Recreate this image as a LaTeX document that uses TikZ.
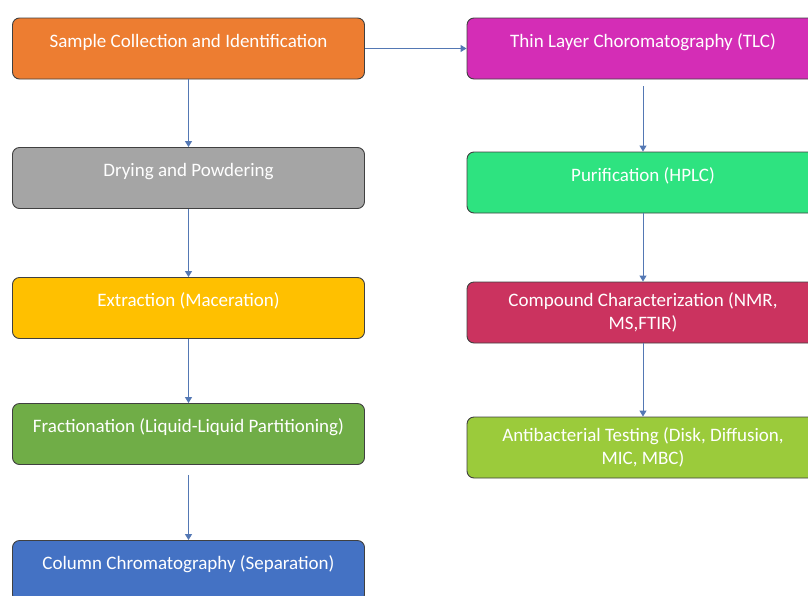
\documentclass[tikz,border=0pt]{standalone}
\usepackage{fontspec}
\setmainfont{Carlito}
\usetikzlibrary{arrows.meta}
\definecolor{sampleorange}{HTML}{ED7D31}
\definecolor{drygray}{HTML}{A5A5A5}
\definecolor{extractgold}{HTML}{FFC000}
\definecolor{fracgreen}{HTML}{70AD47}
\definecolor{columnblue}{HTML}{4472C4}
\definecolor{tlcmagenta}{HTML}{D42DB6}
\definecolor{hplcmint}{HTML}{2EE380}
\definecolor{charcrimson}{HTML}{CB335F}
\definecolor{testlime}{HTML}{9BCB3B}
\definecolor{flowline}{HTML}{5478B4}
\tikzset{
  stepbox/.style={draw=black!75,line width=0.9pt,rounded corners=7pt,
    minimum width=352pt,minimum height=61pt,text=white,align=center,
    font=\fontsize{19}{23}\selectfont},
  oneline/.style={text height=13pt,text depth=16pt},
  flow/.style={draw=flowline,line width=1pt,-{Triangle[width=7pt,length=6pt]}}
}
\begin{document}
\begin{tikzpicture}[x=1pt,y=-1pt]
    \useasboundingbox (0,0) rectangle (808,595);
    % left column
    \node[stepbox,oneline,fill=sampleorange](S1) at (188.5,48.5) {Sample Collection and Identification};
    \node[stepbox,oneline,fill=drygray](S2) at (188.5,178) {Drying and Powdering};
    \node[stepbox,oneline,fill=extractgold](S3) at (188.5,308) {Extraction (Maceration)};
    \node[stepbox,oneline,fill=fracgreen](S4) at (188.5,434) {Fractionation (Liquid-Liquid Partitioning)};
    \node[stepbox,oneline,fill=columnblue](S5) at (188.5,571) {Column Chromatography (Separation)};
    % right column
    \node[stepbox,oneline,fill=tlcmagenta](R1) at (643,48.5) {Thin Layer Choromatography (TLC)};
    \node[stepbox,oneline,fill=hplcmint](R2) at (643,182.5) {Purification (HPLC)};
    \node[stepbox,fill=charcrimson](R3) at (643,312.5) {Compound Characterization (NMR,\\ MS,FTIR)};
    \node[stepbox,fill=testlime](R4) at (643,447.5) {Antibacterial Testing (Disk, Diffusion,\\ MIC, MBC)};
    \foreach \x/\y in {S1/S2,S2/S3,S3/S4,R2/R3,R3/R4}{
      \draw[flow] (\x) -- (\y);
    }
    \draw[flow] ([yshift=-10pt]S4.south) -- (S5);
    \draw[flow] ([yshift=-7pt]R1.south) -- (R2);
    \draw[flow] (S1) -- (R1);
  \end{tikzpicture}
\end{document}
